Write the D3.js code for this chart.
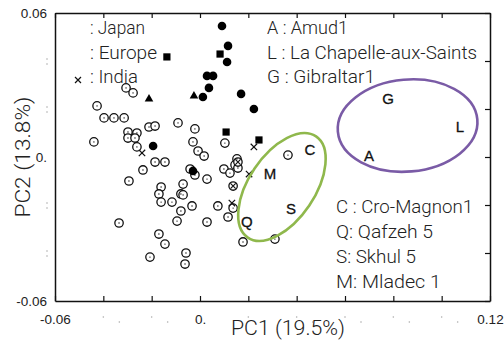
<!DOCTYPE html>
<html>
<head>
<meta charset="utf-8">
<script src="https://d3js.org/d3.v7.min.js"></script>
<style>
  body { margin: 0; background: #fff; }
  svg { display: block; }
</style>
</head>
<body>
<svg width="504" height="342"></svg>
<script>
// recent humans, by group (PC1, PC2)
var openPts = [
  [-0.0306,0.0288],[-0.0277,0.0267],[-0.0426,0.0213],[-0.0397,0.0163],[-0.0356,0.0163],
  [-0.0314,0.0163],[-0.0298,0.0104],[-0.0261,0.0100],[-0.0298,0.0079],[-0.0269,0.0079],
  [-0.0439,0.0063],[-0.0261,0.0042],[-0.0211,0.0125],[-0.0186,0.0129],[-0.0091,0.0142],
  [-0.0021,0.0117],[-0.0029,0.0063],[-0.0008,0.0025],[0.0017,0.0004],[0.0103,0.0058],
  [0.0153,-0.0008],[0.0145,-0.0033],[-0.0186,-0.0021],[-0.0145,-0.0021],[-0.0236,-0.0054],
  [-0.0041,-0.0050],[-0.0021,-0.0075],[0.0029,-0.0092],[0.0099,-0.0050],[0.0124,-0.0067],
  [0.0157,-0.0046],[-0.0294,-0.0100],[-0.0161,-0.0125],[-0.0170,-0.0154],[-0.0161,-0.0188],
  [-0.0116,-0.0188],[-0.0070,-0.0113],[-0.0079,-0.0154],[-0.0070,-0.0158],[-0.0033,-0.0204],
  [-0.0079,-0.0225],[-0.0095,-0.0267],[0.0074,-0.0204],[0.0137,-0.0213],[0.0116,-0.0250],
  [0.0029,-0.0271],[-0.0335,-0.0275],[-0.0170,-0.0321],[-0.0145,-0.0363],[-0.0058,-0.0400],
  [-0.0062,-0.0446],[-0.0207,-0.0417],[0.0178,-0.0354],[0.0310,-0.0342],[0.0364,0.0008]
];
var crossedPts = [[0.0157,-0.0021],[0.0137,-0.0121]];
var indiaPts = [[-0.0240,0.0017],[0.0223,0.0042],[0.0203,-0.0071],[0.0132,-0.0192]];
var japanPts = [
  [0.0091,0.0546],[0.0116,0.0463],[0.0112,0.0396],[0.0029,0.0338],[0.0054,0.0338],
  [0.0037,0.0288],[0.0012,0.0250],[0.0170,0.0263],[0.0223,0.0200],[-0.0194,0.0046],
  [-0.0029,-0.0058]
];
var europePts = [[-0.0137,0.0417],[0.0083,0.0429],[0.0108,0.0104],[0.0244,0.0071]];
var trianglePts = [[-0.0211,0.0242],[-0.0025,0.0254]];

// fossil specimens
var fossilCodes = ["C","M","S","Q","G","L","A"];
var fossilPC1 = [0.0455,0.0290,0.0377,0.0194,0.0778,0.1076,0.0699];
var fossilPC2 = [0.0029,-0.0071,-0.0217,-0.0271,0.0242,0.0125,0.0004];

var xTicks = [-0.06,-0.04,-0.02,0,0.02,0.04,0.06,0.08,0.10,0.12];
var xTickLabels = ["-0.06","","","0.","","","","","","0.12"];
var yTicks = [-0.06,-0.04,-0.02,0,0.02,0.04,0.06];
var yTickLabels = ["-0.06","","","0.","","","0.06"];

var legendLeft = [": Japan", ": Europe", ": India"];
var legendNeand = ["A : Amud1", "L : La Chapelle-aux-Saints", "G : Gibraltar1"];
var legendModern = ["C : Cro-Magnon1", "Q: Qafzeh 5", "S: Skhul 5", "M: Mladec 1"];

var svg = d3.select("svg");
var x = d3.scaleLinear().domain([-0.06, 0.12]).range([55, 490]);
var y = d3.scaleLinear().domain([-0.06, 0.06]).range([301, 13]);

var ink = "#111";
var textFont = "Roboto, 'Open Sans', sans-serif";
var tickFont = "'Liberation Sans', Arial, sans-serif";

// axes
var axBottom = svg.append("g").attr("transform", "translate(0,301)")
    .call(d3.axisBottom(x).tickValues(xTicks).tickSizeInner(-5).tickSizeOuter(0).tickPadding(13)
      .tickFormat(function(d, i) { return xTickLabels[i]; }));
var axTop = svg.append("g").attr("transform", "translate(0,13)")
    .call(d3.axisTop(x).tickValues(xTicks).tickSizeInner(-5).tickSizeOuter(0).tickFormat(""));
var axRight = svg.append("g").attr("transform", "translate(490,0)")
    .call(d3.axisRight(y).tickValues(yTicks).tickSizeInner(-5).tickSizeOuter(0).tickFormat(""));
var axLeft = svg.append("g").attr("transform", "translate(55,0)")
    .call(d3.axisLeft(y).tickValues(yTicks).tickSizeInner(0).tickSizeOuter(0).tickPadding(8)
      .tickFormat(function(d, i) { return yTickLabels[i]; }));

[axBottom, axTop, axRight, axLeft].forEach(function(g) {
  g.selectAll(".domain").attr("stroke", ink).attr("stroke-width", 1.5);
  g.selectAll(".tick line").attr("stroke", ink).attr("stroke-width", 1.2);
  g.selectAll("text").attr("font-family", tickFont).attr("font-size", 13.5).attr("fill", "#222");
});

// faint remnants of the hidden tick labels
var ghost = svg.append("g").attr("fill", "#aaa");
xTicks.forEach(function(t, i) {
  if (xTickLabels[i]) return;
  ghost.append("circle").attr("cx", x(t)).attr("cy", 317).attr("r", 0.8);
  ghost.append("circle").attr("cx", x(t) + 16).attr("cy", 322).attr("r", 0.8);
});
yTicks.forEach(function(t, i) {
  if (yTickLabels[i]) return;
  ghost.append("circle").attr("cx", 47).attr("cy", y(t) - 2).attr("r", 0.8);
  ghost.append("circle").attr("cx", 47).attr("cy", y(t) + 3).attr("r", 0.8);
});

// axis titles
svg.append("text").attr("x", 288).attr("y", 335).attr("text-anchor", "middle")
  .attr("font-family", textFont).attr("font-weight", 300).attr("font-size", 21).attr("fill", "#222")
  .attr("textLength", 114).attr("lengthAdjust", "spacingAndGlyphs")
  .text("PC1 (19.5%)");
svg.append("text").attr("transform", "translate(30,157) rotate(-90)").attr("text-anchor", "middle")
  .attr("font-family", textFont).attr("font-weight", 300).attr("font-size", 21).attr("fill", "#222")
  .attr("textLength", 121).attr("lengthAdjust", "spacingAndGlyphs")
  .text("PC2 (13.8%)");

// points
var pts = svg.append("g");

function cross(g, cx, cy, h) {
  g.append("path")
    .attr("d", "M" + (cx - h) + "," + (cy - h) + "L" + (cx + h) + "," + (cy + h) +
               "M" + (cx - h) + "," + (cy + h) + "L" + (cx + h) + "," + (cy - h))
    .attr("stroke", ink).attr("stroke-width", 1.2).attr("fill", "none");
}

pts.selectAll("circle.open").data(openPts.concat(crossedPts)).enter().append("circle")
  .attr("class", "open")
  .attr("cx", function(d) { return x(d[0]); })
  .attr("cy", function(d) { return y(d[1]); })
  .attr("r", 4.2).attr("fill", "#fff").attr("stroke", ink).attr("stroke-width", 1.3);
pts.selectAll("circle.dot").data(openPts).enter().append("circle")
  .attr("class", "dot")
  .attr("cx", function(d) { return x(d[0]); })
  .attr("cy", function(d) { return y(d[1]); })
  .attr("r", 0.7).attr("fill", ink);
crossedPts.forEach(function(d) { cross(pts, x(d[0]), y(d[1]), 2.6); });
indiaPts.forEach(function(d) { cross(pts, x(d[0]), y(d[1]), 3.2); });

pts.selectAll("circle.jp").data(japanPts).enter().append("circle")
  .attr("class", "jp")
  .attr("cx", function(d) { return x(d[0]); })
  .attr("cy", function(d) { return y(d[1]); })
  .attr("r", 4.3).attr("fill", "#000");
pts.selectAll("rect.eu").data(europePts).enter().append("rect")
  .attr("class", "eu")
  .attr("x", function(d) { return x(d[0]) - 3.6; })
  .attr("y", function(d) { return y(d[1]) - 3.6; })
  .attr("width", 7.2).attr("height", 7.2).attr("fill", "#000");
pts.selectAll("path.tri").data(trianglePts).enter().append("path")
  .attr("class", "tri")
  .attr("transform", function(d) { return "translate(" + x(d[0]) + "," + y(d[1]) + ")"; })
  .attr("d", d3.symbol().type(d3.symbolTriangle).size(32))
  .attr("fill", "#000");

// ellipses
svg.append("ellipse")
  .attr("transform", "translate(" + x(0.0339) + "," + y(-0.0125) + ") rotate(-56)")
  .attr("rx", 61).attr("ry", 33)
  .attr("fill", "none").attr("stroke", "#8fb84c").attr("stroke-width", 2.6);
svg.append("ellipse")
  .attr("transform", "translate(" + x(0.0859) + "," + y(0.0131) + ") rotate(-5)")
  .attr("rx", 70).attr("ry", 46)
  .attr("fill", "none").attr("stroke", "#7a5ba6").attr("stroke-width", 2.6);

// fossil letters
svg.selectAll("text.fossil").data(fossilCodes).enter().append("text")
  .attr("class", "fossil")
  .attr("x", function(d, i) { return x(fossilPC1[i]); })
  .attr("y", function(d, i) { return y(fossilPC2[i]); })
  .attr("dy", "0.36em").attr("text-anchor", "middle")
  .attr("font-family", tickFont).attr("font-size", 15).attr("fill", "#111")
  .attr("stroke", "#111").attr("stroke-width", 0.3)
  .text(function(d) { return d; });

// legends
function legend(lines, lx, ly, gap, widths) {
  lines.forEach(function(t, i) {
    svg.append("text").attr("x", lx).attr("y", ly + i * gap)
      .attr("font-family", textFont).attr("font-weight", 300).attr("font-size", 19).attr("fill", "#222")
      .attr("textLength", widths[i]).attr("lengthAdjust", "spacingAndGlyphs")
      .text(t);
  });
}
legend(legendLeft, 90, 34, 24.5, [55, 67, 48]);
legend(legendNeand, 267, 34, 24.5, [81, 210, 108]);
legend(legendModern, 336, 213, 25, [137, 97, 80, 105]);
cross(svg, 78, 80, 3);
</script>
</body>
</html>
